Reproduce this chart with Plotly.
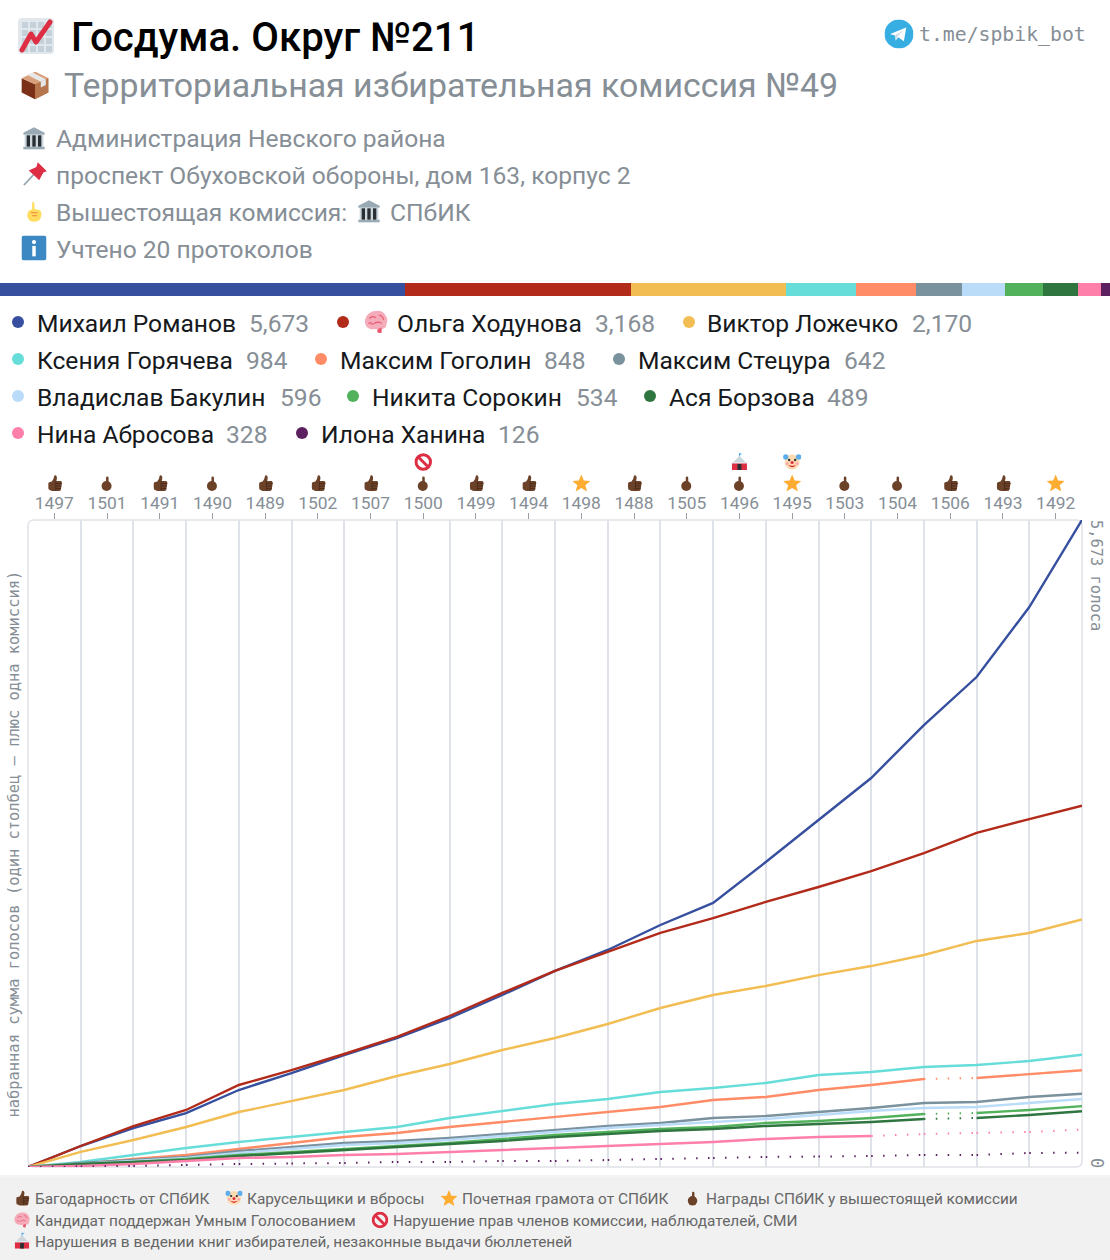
import base64
import plotly.graph_objects as go

W, H = 1110, 1260

# ---------- data ----------
candidates = ["Михаил Романов", "Ольга Ходунова", "Виктор Ложечко", "Ксения Горячева", "Максим Гоголин",
              "Максим Стецура", "Владислав Бакулин", "Никита Сорокин", "Ася Борзова", "Нина Абросова", "Илона Ханина"]
totals = [5673, 3168, 2170, 984, 848, 642, 596, 534, 489, 328, 126]
colors = ["#364f9e", "#b22a19", "#f2bd53", "#67ddd9", "#ff8c66", "#7a919e", "#bbdcf8", "#52b25c", "#2f7540", "#ff7fab", "#5c1f60"]
protocols = ["1497", "1501", "1491", "1490", "1489", "1502", "1507", "1500", "1499", "1494",
             "1498", "1488", "1505", "1496", "1495", "1503", "1504", "1506", "1493", "1492"]
awards = ["thumb", "point", "thumb", "point", "thumb", "thumb", "thumb", "point", "thumb", "thumb",
          "star", "thumb", "point", "point", "star", "point", "point", "thumb", "thumb", "star"]
flags = {"1500": "noentry", "1496": "tent", "1495": "clown"}

romanov = [0, 184, 342, 473, 675, 824, 982, 1131, 1306, 1508, 1719, 1903, 2122, 2315, 2674, 3043, 3411, 3875, 4296, 4910, 5673]
khodunova = [0, 184, 359, 500, 719, 850, 991, 1140, 1324, 1526, 1719, 1885, 2052, 2183, 2324, 2455, 2595, 2753, 2929, 3051, 3168]
lozhechko = [0, 132, 237, 351, 482, 579, 675, 798, 903, 1026, 1131, 1254, 1394, 1508, 1587, 1683, 1762, 1859, 1982, 2052, 2170]
goryacheva = [0, 44, 105, 167, 219, 263, 307, 351, 430, 491, 552, 596, 658, 693, 737, 807, 833, 877, 894, 929, 984]
gogolin = [0, 26, 70, 105, 158, 210, 263, 298, 351, 395, 438, 482, 526, 587, 614, 675, 719, 772, 780, 815, 848]
stetsura = [0, 35, 61, 88, 140, 175, 210, 228, 254, 289, 324, 359, 386, 430, 447, 482, 517, 561, 570, 614, 642]
bakulin = [0, 26, 53, 79, 123, 158, 193, 210, 237, 272, 307, 342, 368, 395, 421, 456, 491, 517, 526, 561, 596]
sorokin = [0, 26, 44, 70, 105, 132, 158, 184, 210, 246, 281, 307, 333, 351, 386, 403, 430, 465, 473, 500, 534]
borzova = [0, 26, 44, 61, 96, 123, 149, 175, 202, 228, 263, 289, 316, 333, 360, 377, 395, 421, 430, 456, 489]
abrosova = [0, 9, 26, 53, 79, 88, 105, 114, 132, 149, 167, 184, 202, 219, 246, 263, 272, 289, 298, 307, 328]
khanina = [0, 4, 9, 18, 26, 31, 35, 44, 44, 53, 53, 61, 70, 79, 88, 92, 96, 105, 105, 123, 126]
series = [romanov, khodunova, lozhechko, goryacheva, gogolin, stetsura, bakulin, sorokin, borzova, abrosova, khanina]
# column spans in which a candidate's line is dotted
dotted_spans = [[], [], [], [], [(17, 18)], [], [], [(17, 18)], [(17, 18)], [(16, 20)], [(0, 20)]]

# ---------- layout constants ----------
PL, PR, PT, PB = 28, 1082, 520, 1167
GREY = "#868e96"
MONO = "DejaVu Sans Mono"
SANS = "Roboto"
def px(x): return x / W
def py(y): return 1 - y / H

# ---------- icons ----------
def svg(body, vb="0 0 36 36"):
    s = f'<svg xmlns="http://www.w3.org/2000/svg" viewBox="{vb}">{body}</svg>'
    return "data:image/svg+xml;base64," + base64.b64encode(s.encode()).decode()

grid_cells = "".join(f'<rect x="{x}" y="{y}" width="6" height="6" fill="#c5d0d8"/>' for x in (4, 12, 20, 28) for y in (4, 12, 20, 28))
ICONS = {
 "chart": svg('<rect width="36" height="36" rx="4" fill="#e1e8ed"/>' + grid_cells +
              '<path d="M4 32 L13 16 L18 24 L32 4" fill="none" stroke="#dd2e44" stroke-width="5" stroke-linejoin="round" stroke-linecap="round"/>'),
 "box": svg('<path d="M18 2 L34 10 V27 L18 35 Z" fill="#c1845c"/><path d="M18 17 L2 10 V27 L18 35 Z" fill="#7a2f17"/>'
            '<path d="M18 17 L34 10 V27 L18 35 Z" fill="#b5764e"/>'
            '<path d="M18 17 L2 10 L18 2 L34 10 Z" fill="#d9a07b"/><path d="M9 6 L25 14 L31 11 L15 3 Z" fill="#e6e7e8"/>'
            '<path d="M25 14 L31 11 V18 L25 21 Z" fill="#e6e7e8"/>'),
 "bank": svg('<path d="M18 2 L34 10 V13 H2 V10 Z" fill="#99aab5"/><rect x="2" y="31" width="32" height="4" fill="#99aab5"/>'
             '<rect x="4" y="13" width="28" height="18" fill="#ccd6dd"/>'
             '<rect x="7" y="14" width="5" height="17" fill="#292f33"/><rect x="15.5" y="14" width="5" height="17" fill="#292f33"/><rect x="24" y="14" width="5" height="17" fill="#292f33"/>'),
 "pin": svg('<path d="M2 34 L16 19" stroke="#99aab5" stroke-width="2.5"/>'
            '<path d="M22 1 L35 14 L30 16 L24 27 Q21 24 9 13 L20 8 Z" fill="#dd2e44"/>'),
 "up": svg('<path d="M15 2 Q18 1 18.5 4 L19 13 L27 15 Q31 17 30 23 Q29 34 19 34 Q8 34 7 24 Q7 15 15 14 Z" fill="#ffdc5d"/>'
           '<path d="M13 19 H24 M15 24 H23" stroke="#ef9645" stroke-width="2"/>'),
 "info": svg('<rect width="36" height="36" rx="4" fill="#3b88c3"/><circle cx="18" cy="9.5" r="3" fill="#fff"/><rect x="15.5" y="15" width="5" height="15" fill="#fff"/>'),
 "tg": svg('<circle cx="18" cy="18" r="18" fill="#37aee2"/><path d="M7 18 L27 10 L24 27 L17 22 L14 26 L13 20 Z" fill="#fff"/><path d="M13 20 L24 13 L16 21 L14 26 Z" fill="#c8daea"/>'),
 "thumb": svg('<path d="M13 15 Q17 10 18 3 Q22 1 23 6 Q23.5 10 22 14 H31 Q34 15 33 19 L31 32 Q30 34 27 34 H15 Q11 34 9 32 Q6 32 6 28 V19 Q6 16 9 16 Z" fill="#6b4128"/>'
              '<path d="M21 19 H33 M21 24 H32 M21 29 H31" stroke="#472a19" stroke-width="1.6"/><rect x="20" y="15" width="1.6" height="18" fill="#472a19"/>'),
 "point": svg('<rect x="16" y="5" width="5" height="17" rx="2.5" fill="#6b4128"/><circle cx="17" cy="24" r="10" fill="#6b4128"/>'),
 "star": svg('<path d="M18 1 L23 13 L36 14 L26 22.5 L29.5 35 L18 28 L6.5 35 L10 22.5 L0 14 L13 13 Z" fill="#ffac33"/>'),
 "noentry": svg('<circle cx="18" cy="18" r="14.5" fill="none" stroke="#dd2e44" stroke-width="6"/><path d="M8 8 L28 28" stroke="#dd2e44" stroke-width="6"/>'),
 "tent": svg('<path d="M18 0 V8" stroke="#55acee" stroke-width="2"/><path d="M18 0 L24 2 L18 4 Z" fill="#55acee"/>'
             '<path d="M18 6 L32 20 H4 Z" fill="#ccd6dd"/><rect x="3" y="20" width="30" height="14" fill="#dd2e44"/>'
             '<rect x="14" y="22" width="8" height="12" fill="#292f33"/><rect x="3" y="18" width="30" height="3" fill="#e1e8ed"/>'),
 "clown": svg('<circle cx="18" cy="18" r="15" fill="#ffdbb0"/><circle cx="5" cy="8" r="5.5" fill="#5dadec"/><circle cx="31" cy="8" r="5.5" fill="#5dadec"/>'
              '<circle cx="12" cy="14" r="2.4" fill="#292f33"/><circle cx="24" cy="14" r="2.4" fill="#292f33"/><circle cx="18" cy="19" r="3.2" fill="#dd2e44"/>'
              '<circle cx="8" cy="21" r="3" fill="#f9a6b0"/><circle cx="28" cy="21" r="3" fill="#f9a6b0"/>'
              '<path d="M10 24 Q18 33 26 24 Q18 27 10 24 Z" fill="#dd2e44"/>'),
 "brain": svg('<path d="M18 2 Q28 1 32 9 Q36 15 33 21 Q33 28 26 28 L26 33 Q22 35 20 32 L19 28 Q8 30 4 24 Q0 17 4 10 Q9 2 18 2 Z" fill="#f4abba"/>'
              '<path d="M8 13 Q13 8 18 12 M14 21 Q20 16 26 20 M22 8 Q28 9 29 15 M7 20 Q11 18 13 22" stroke="#ea596e" stroke-width="1.6" fill="none"/>'
              '<path d="M21 28 L26 26 V33 Q22 35 20 32 Z" fill="#ea596e"/>'),
}

images, shapes, notes = [], [], []
def icon(name, x, y, w, h=None, xref="paper"):
    h = h or w
    images.append(dict(source=ICONS[name], xref=xref, yref="paper", x=x if xref != "paper" else px(x), y=py(y),
                       sizex=(w / ((PR - PL) / 20)) if xref != "paper" else w / W, sizey=h / H,
                       xanchor="center", yanchor="middle", sizing="contain", layer="above"))

def text(t, x, y, size, color=GREY, weight=None, family=SANS, angle=0, xanchor="left"):
    f = dict(family=family, size=size, color=color)
    if weight: f["weight"] = weight
    notes.append(dict(text=t, x=px(x), y=py(y), xref="paper", yref="paper", xanchor=xanchor, yanchor="middle",
                      showarrow=False, font=f, textangle=angle, borderpad=0, borderwidth=0))

# ---------- header ----------
icon("chart", 36, 36, 36)
text("Госдума. Округ №211", 71, 37, 40.2, color="#000000", weight=500)
icon("tg", 899, 34, 29)
text("t.me/spbik_bot", 919, 34, 19.8, family=MONO)
icon("box", 35, 85, 30)
text("Территориальная избирательная комиссия №49", 64, 86, 33.9)
icon("bank", 34, 138, 24)
text("Администрация Невского района", 56, 138, 24.6)
icon("pin", 35, 174, 25)
text("проспект Обуховской обороны, дом 163, корпус 2", 56, 175.5, 24.6)
icon("up", 34, 212, 22)
text("Вышестоящая комиссия:", 56, 212, 24.6)
icon("bank", 369, 211, 24)
text("СПбИК", 390, 212, 24.6)
icon("info", 34, 248, 25)
text("Учтено 20 протоколов", 56, 249.5, 24.6)

# ---------- legend ----------
legend_rows = [323, 323, 323, 360, 360, 360, 397, 397, 397, 434, 434]
legend_dot = [18, 343, 689, 18, 321, 619, 18, 353, 650, 18, 302]
legend_name = [37, 397, 707, 37, 340, 638, 37, 372, 669, 37, 321]
legend_val = [249, 595, 912, 246, 544, 844, 280, 576, 827, 226, 498]
for nm, tot, col, ry, dx, nx, vx in zip(candidates, totals, colors, legend_rows, legend_dot, legend_name, legend_val):
    shapes.append(dict(type="circle", xref="paper", yref="paper", x0=px(dx - 6), x1=px(dx + 6), y0=py(ry - 7), y1=py(ry + 5),
                       fillcolor=col, line=dict(width=0), layer="above"))
    text(nm, nx, ry, 24.6, color="#16191c")
    text(f"{tot:,}", vx, ry, 24.6)
icon("brain", 376, 322, 25)

# ---------- footer ----------
shapes.append(dict(type="rect", xref="paper", yref="paper", x0=0, x1=1, y0=0, y1=py(1177), fillcolor="#f1f1f1", line=dict(width=0), layer="below"))
shapes.append(dict(type="rect", xref="paper", yref="paper", x0=0, x1=1, y0=py(1177), y1=py(1175), fillcolor="#f4f4f4", line=dict(width=0), layer="below"))
footer = [("thumb", 22, 1198, 35, "Багодарность от СПбИК"), ("clown", 234, 1198, 247, "Карусельщики и вбросы"),
          ("star", 449, 1198, 462, "Почетная грамота от СПбИК"), ("point", 693, 1198, 706, "Награды СПбИК у вышестоящей комиссии"),
          ("brain", 22, 1220, 35, "Кандидат поддержан Умным Голосованием"), ("noentry", 380, 1220, 393, "Нарушение прав членов комиссии, наблюдателей, СМИ"),
          ("tent", 22, 1241, 35, "Нарушения в ведении книг избирателей, незаконные выдачи бюллетеней")]
for ic, ix, ry, tx, t in footer:
    icon(ic, ix, ry, 17)
    text(t, tx, ry + 1, 15.4, color="#666666")

# ---------- axis captions ----------
text("набранная сумма голосов (один столбец – плюс одна комиссия)", 14, 844.5, 15.4, family=MONO, angle=-90, xanchor="center")
text("5,673 голоса", 1096, 575, 15.4, family=MONO, angle=90, xanchor="center")
text("0", 1097, 1163, 17, family=MONO, angle=90, xanchor="center")

# ---------- column icons ----------
for i, (p, a) in enumerate(zip(protocols, awards)):
    icon(a, i + 0.5, 483, 18, xref="x")
    if p in flags:
        icon(flags[p], i + 0.5, 462, 18, xref="x")

# ---------- plot border with rounded corners ----------
BORDER = "#dfe2e8"
r = 6
x0, x1, y0, y1 = px(PL), px(PR), py(PB), py(PT)
rx, ry_ = r / W, r / H
shapes.append(dict(type="path", xref="paper", yref="paper", layer="below", line=dict(color=BORDER, width=1.5),
                   path=f"M {x0+rx} {y1} L {x1-rx} {y1} Q {x1} {y1} {x1} {y1-ry_} L {x1} {y0+ry_} Q {x1} {y0} {x1-rx} {y0} "
                        f"L {x0+rx} {y0} Q {x0} {y0} {x0} {y0+ry_} L {x0} {y1-ry_} Q {x0} {y1} {x0+rx} {y1} Z"))

# ---------- figure ----------
fig = go.Figure()
for tot, col, nm in zip(totals, colors, candidates):
    fig.add_trace(go.Bar(x=[tot], y=["share"], orientation="h", marker=dict(color=col, line=dict(width=0)),
                         xaxis="x2", yaxis="y2", showlegend=False, name=nm, hoverinfo="skip"))
columns = list(range(len(protocols) + 1))
for vals, col, nm, spans in zip(series, colors, candidates, dotted_spans):
    xs, ys = [], []
    for k in columns:
        if any(a < k <= b for a, b in spans):
            # this step is dotted: draw it on its own so the dots restart at each column
            fig.add_trace(go.Scatter(x=columns[k - 1:k + 1], y=vals[k - 1:k + 1], mode="lines",
                                     line=dict(color=col, width=2, dash="1.5px,10.4px"), showlegend=False,
                                     name=nm, cliponaxis=False, hoverinfo="skip"))
            xs.append(None); ys.append(None)
        xs.append(k); ys.append(vals[k])
    fig.add_trace(go.Scatter(x=xs, y=ys, mode="lines", line=dict(color=col, width=2.4), showlegend=False,
                             name=nm, cliponaxis=False, connectgaps=False))

fig.update_layout(
    width=W, height=H, autosize=False, margin=dict(l=0, r=0, t=0, b=0),
    paper_bgcolor="#ffffff", plot_bgcolor="#ffffff", barmode="stack", bargap=0,
    showlegend=False, images=images, shapes=shapes, annotations=notes,
    xaxis=dict(domain=[px(PL), px(PR)], range=[0, 20], side="top", anchor="y",
               tickmode="array", tickvals=[i + 0.5 for i in range(20)], ticktext=protocols,
               ticks="outside", ticklen=6, tickwidth=1, tickcolor="#9aa0a6", ticklabelstandoff=-3,
               tickfont=dict(family=SANS, size=17.4, color=GREY),
               showgrid=False, zeroline=False, showline=False,
               minor=dict(tickmode="array", tickvals=columns[1:-1], showgrid=True, gridcolor=BORDER, gridwidth=1.5, ticks="")),
    yaxis=dict(domain=[py(PB), py(PT)], range=[0, totals[0]], showticklabels=False, ticks="", showgrid=False,
               zeroline=False, showline=False, anchor="x"),
    xaxis2=dict(domain=[0, 1], range=[0, sum(totals)], visible=False, anchor="y2"),
    yaxis2=dict(domain=[py(296), py(283)], visible=False, anchor="x2"),
)
fig.write_html("out.html", post_script="document.body.style.margin='0';document.body.style.overflow='hidden';",
               config=dict(displayModeBar=False))
